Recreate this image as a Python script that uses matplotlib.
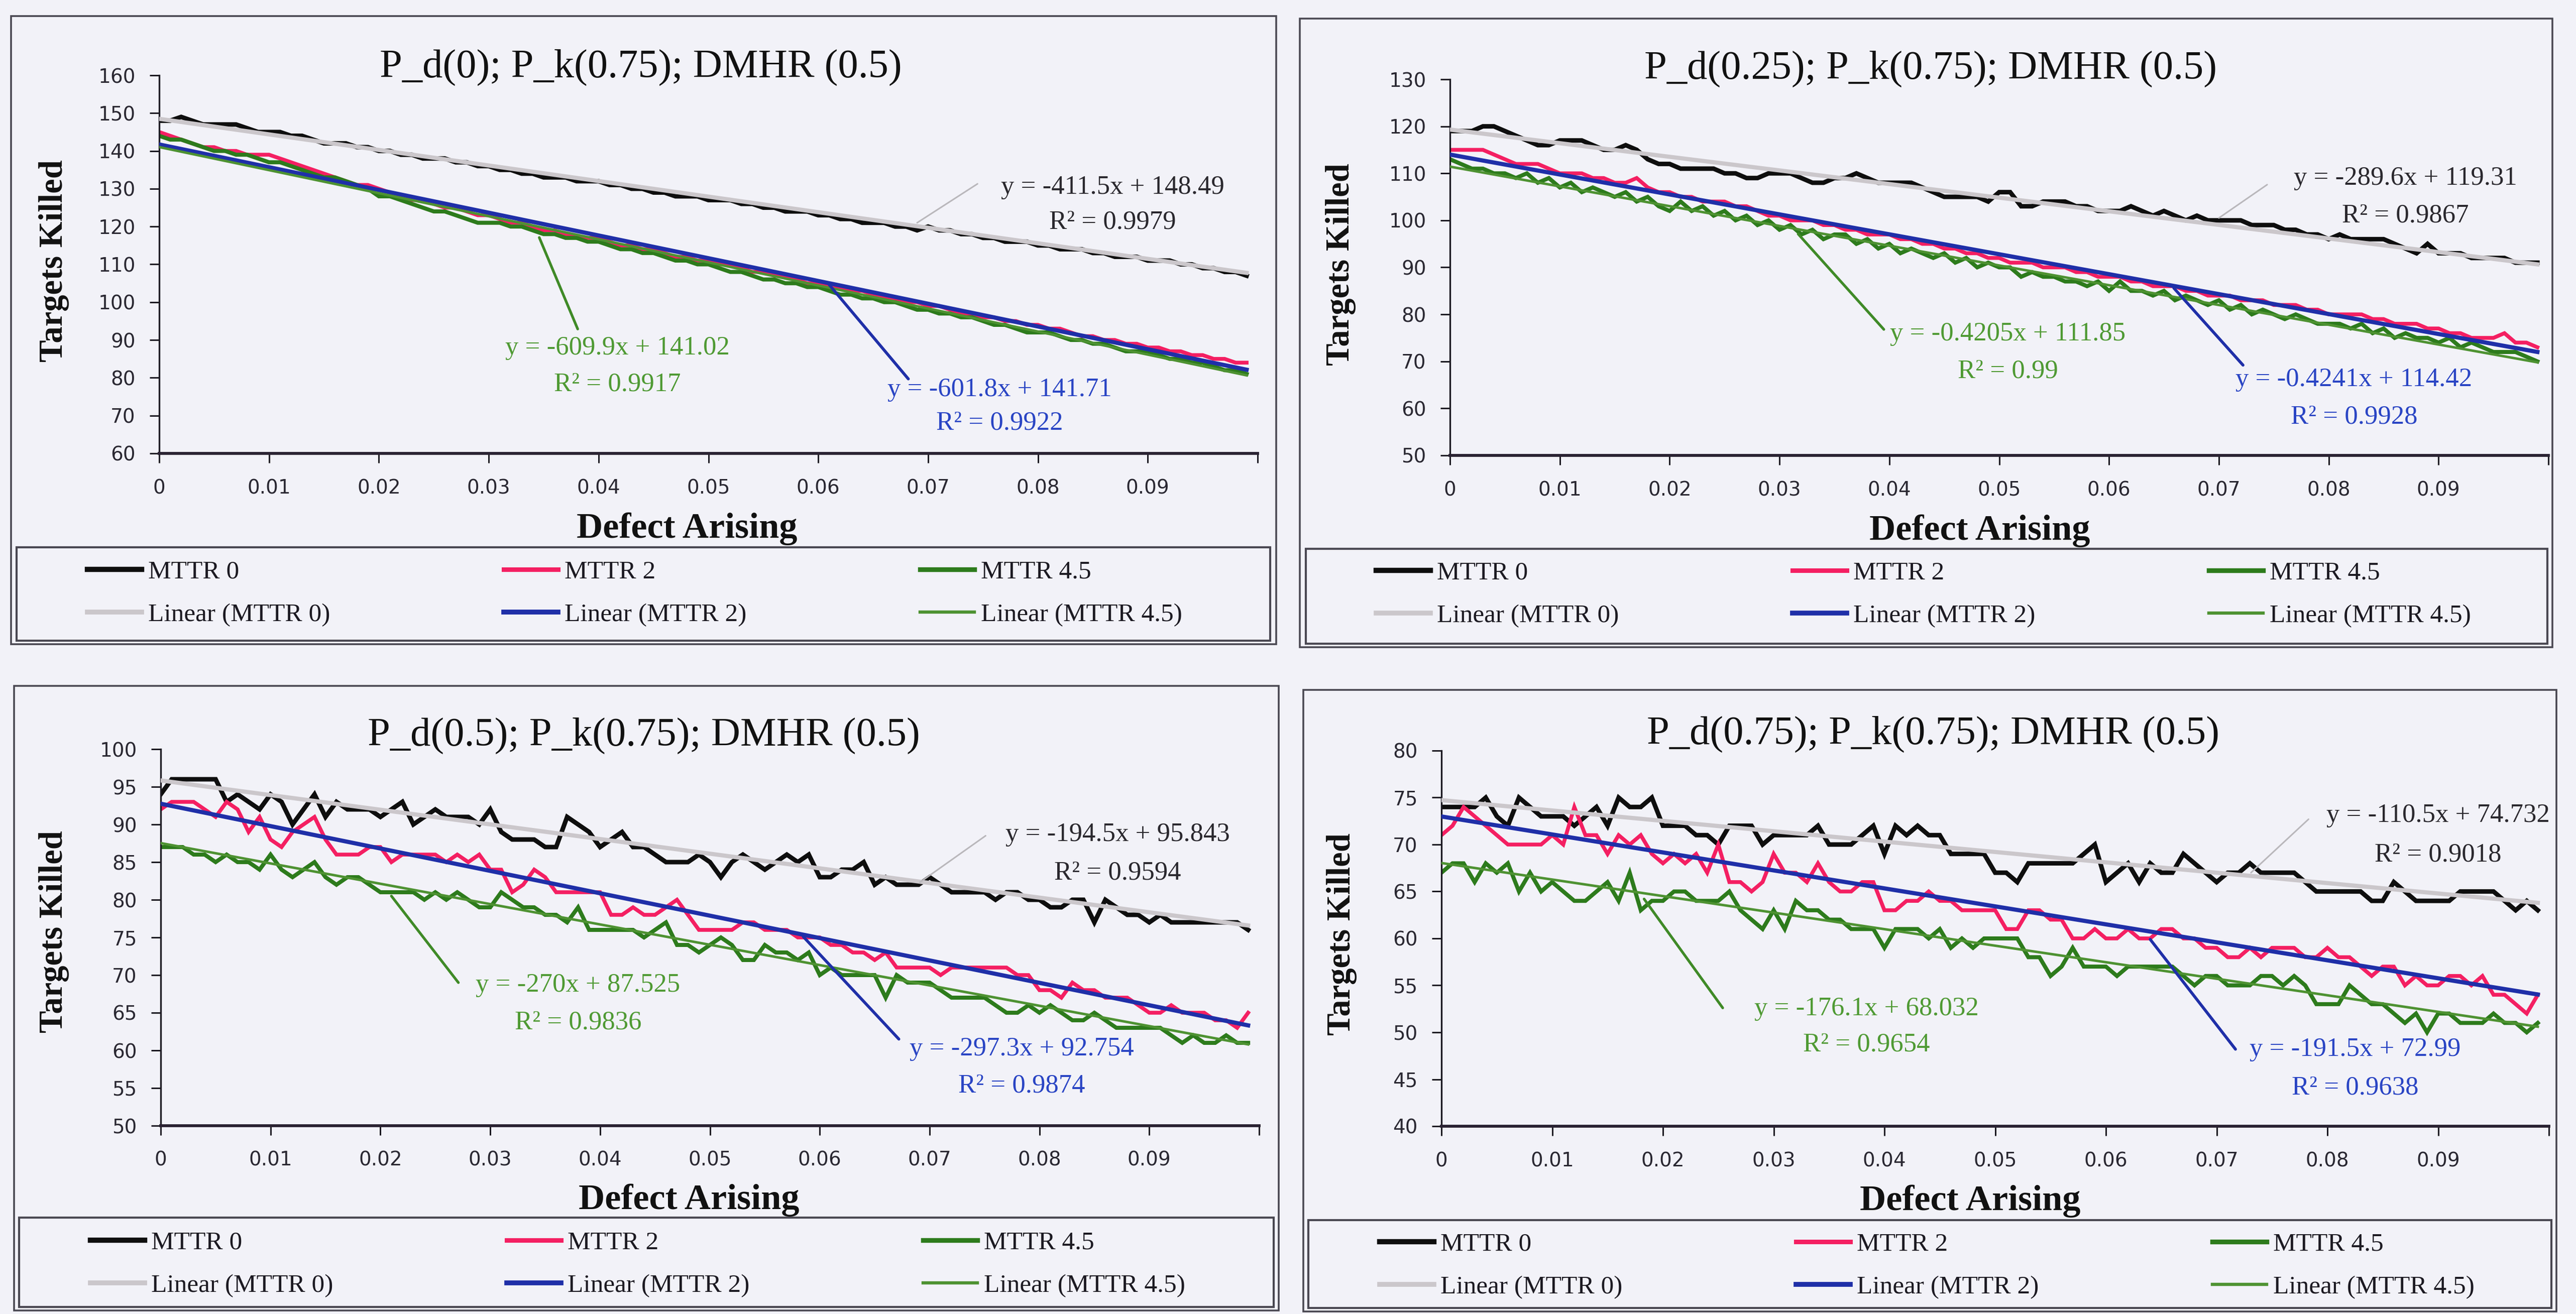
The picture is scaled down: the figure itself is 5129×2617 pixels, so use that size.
import numpy as np
import matplotlib
matplotlib.use("Agg")
import matplotlib.pyplot as plt
from matplotlib.lines import Line2D
from matplotlib.patches import Rectangle

# ---------------------------------------------------------------- data
# Defect-arising rate (category axis, 100 steps)
DEFECT_RATE = np.round(np.arange(100) * 0.001, 3)

SERIES_NAMES = ["MTTR 0", "MTTR 2", "MTTR 4.5"]

PANEL_TITLES = [
    "P_d(0); P_k(0.75); DMHR (0.5)",
    "P_d(0.25); P_k(0.75); DMHR (0.5)",
    "P_d(0.5); P_k(0.75); DMHR (0.5)",
    "P_d(0.75); P_k(0.75); DMHR (0.5)",
]

# P_d = 0
PD0_MTTR0 = [148, 148, 149, 148, 147, 147, 147, 147, 146, 145,
             145, 145, 144, 144, 143, 142, 142, 142, 141, 141,
             140, 140, 139, 139, 138, 138, 138, 137, 137, 136,
             136, 135, 135, 134, 134, 133, 133, 133, 132, 132,
             132, 131, 131, 130, 130, 129, 129, 128, 128, 128,
             127, 127, 127, 126, 126, 125, 125, 124, 124, 124,
             123, 123, 122, 122, 121, 121, 121, 120, 120, 119,
             120, 119, 119, 118, 118, 117, 117, 116, 116, 116,
             115, 115, 114, 114, 114, 113, 113, 112, 112, 112,
             111, 111, 111, 110, 110, 109, 109, 108, 108, 107]
PD0_MTTR2 = [145, 144, 143, 142, 141, 141, 140, 140, 139, 139,
             139, 138, 137, 136, 135, 134, 133, 132, 131, 131,
             130, 129, 128, 127, 127, 126, 125, 125, 124, 123,
             123, 122, 121, 121, 120, 119, 119, 118, 117, 117,
             117, 116, 115, 115, 114, 114, 113, 112, 112, 111,
             111, 110, 110, 109, 108, 108, 107, 107, 106, 105,
             105, 104, 104, 103, 103, 102, 101, 101, 100, 100,
             99, 99, 98, 97, 97, 96, 96, 95, 95, 94,
             94, 93, 93, 92, 91, 91, 90, 90, 89, 89,
             88, 88, 87, 87, 86, 86, 85, 85, 84, 84]
PD0_MTTR45 = [144, 143, 143, 142, 141, 140, 140, 139, 139, 138,
              137, 137, 136, 135, 134, 133, 133, 132, 131, 130,
              128, 128, 127, 126, 125, 124, 124, 123, 122, 121,
              121, 121, 120, 120, 119, 118, 118, 117, 117, 116,
              116, 115, 114, 114, 113, 113, 112, 111, 111, 110,
              110, 109, 108, 108, 107, 106, 106, 105, 105, 104,
              104, 103, 102, 102, 101, 101, 100, 100, 99, 98,
              98, 97, 97, 96, 96, 95, 94, 94, 93, 92,
              92, 92, 91, 90, 90, 89, 89, 88, 87, 87,
              87, 86, 85, 85, 84, 84, 83, 82, 82, 81]

# P_d = 0.25
PD025_MTTR0 = [119, 119, 119, 120, 120, 119, 118, 117, 116, 116,
               117, 117, 117, 116, 115, 115, 116, 115, 113, 112,
               112, 111, 111, 111, 111, 110, 110, 109, 109, 110,
               110, 110, 109, 108, 108, 109, 109, 110, 109, 108,
               108, 108, 108, 107, 106, 105, 105, 105, 105, 104,
               106, 106, 103, 103, 104, 104, 104, 103, 103, 102,
               102, 102, 103, 102, 101, 102, 101, 100, 101, 100,
               100, 100, 100, 99, 99, 99, 98, 98, 97, 97,
               96, 97, 96, 96, 96, 96, 95, 94, 93, 95,
               93, 93, 93, 92, 92, 92, 92, 91, 91, 91]
PD025_MTTR2 = [115, 115, 115, 115, 114, 113, 112, 112, 112, 111,
               110, 110, 110, 109, 109, 108, 108, 109, 107, 106,
               106, 105, 105, 104, 104, 104, 103, 103, 102, 101,
               101, 100, 100, 100, 99, 99, 98, 98, 97, 97,
               97, 96, 96, 95, 95, 94, 94, 93, 93, 92,
               92, 91, 91, 91, 90, 90, 90, 89, 89, 88,
               88, 88, 87, 87, 86, 86, 86, 85, 85, 84,
               84, 84, 83, 83, 83, 82, 82, 82, 81, 81,
               80, 80, 80, 80, 79, 79, 78, 78, 78, 77,
               77, 76, 76, 75, 75, 75, 76, 74, 74, 73]
PD025_MTTR45 = [113, 112, 111, 111, 110, 110, 109, 110, 108, 109,
                107, 108, 106, 107, 106, 105, 106, 104, 105, 103,
                102, 104, 102, 103, 101, 102, 100, 101, 99, 100,
                98, 99, 97, 98, 96, 97, 97, 95, 96, 94,
                95, 93, 94, 93, 92, 93, 91, 92, 90, 91,
                90, 90, 88, 89, 88, 88, 87, 87, 86, 87,
                85, 87, 85, 85, 84, 85, 83, 84, 83, 82,
                83, 81, 82, 80, 81, 80, 79, 80, 79, 78,
                78, 78, 77, 78, 76, 77, 75, 76, 75, 75,
                74, 75, 73, 74, 73, 72, 72, 72, 71, 70]

# P_d = 0.5
PD05_MTTR0 = [94, 96, 96, 96, 96, 96, 93, 94, 93, 92,
              94, 93, 90, 92, 94, 91, 93, 92, 92, 92,
              91, 92, 93, 90, 91, 92, 91, 91, 91, 90,
              92, 89, 88, 88, 88, 87, 87, 91, 90, 89,
              87, 88, 89, 87, 87, 86, 85, 85, 85, 86,
              85, 83, 85, 86, 85, 84, 85, 86, 85, 86,
              83, 83, 84, 84, 85, 82, 83, 82, 82, 82,
              83, 82, 81, 81, 81, 81, 80, 81, 81, 80,
              80, 79, 79, 80, 80, 77, 80, 79, 78, 78,
              77, 78, 77, 77, 77, 77, 77, 77, 77, 76]
PD05_MTTR2 = [92, 93, 93, 93, 92, 91, 93, 92, 89, 91,
              88, 87, 89, 90, 91, 88, 86, 86, 86, 87,
              87, 85, 86, 86, 86, 86, 85, 86, 85, 86,
              84, 84, 81, 82, 84, 83, 81, 81, 81, 81,
              81, 78, 78, 79, 78, 78, 79, 80, 78, 76,
              76, 76, 76, 77, 77, 76, 76, 76, 75, 75,
              75, 74, 74, 73, 73, 72, 73, 71, 71, 71,
              71, 70, 71, 71, 71, 71, 71, 71, 70, 70,
              68, 68, 67, 69, 68, 68, 67, 67, 67, 66,
              65, 65, 66, 65, 65, 65, 64, 64, 63, 65]
PD05_MTTR45 = [87, 87, 87, 86, 86, 85, 86, 85, 85, 84,
               86, 84, 83, 84, 85, 83, 82, 83, 83, 82,
               81, 81, 81, 81, 80, 81, 80, 81, 80, 79,
               79, 81, 80, 79, 79, 78, 78, 77, 79, 76,
               76, 76, 76, 76, 75, 76, 77, 74, 74, 73,
               74, 75, 74, 72, 72, 74, 73, 73, 72, 73,
               70, 71, 70, 70, 70, 70, 67, 70, 69, 69,
               69, 68, 67, 67, 67, 67, 66, 65, 65, 66,
               65, 66, 65, 64, 64, 65, 64, 63, 63, 63,
               63, 63, 62, 61, 62, 61, 61, 62, 61, 61]

# P_d = 0.75
PD075_MTTR0 = [74, 74, 74, 74, 75, 73, 72, 75, 74, 73,
               73, 73, 72, 73, 74, 72, 75, 74, 74, 75,
               72, 72, 72, 71, 71, 70, 72, 72, 72, 70,
               71, 71, 71, 71, 72, 70, 70, 70, 71, 72,
               69, 72, 71, 72, 71, 71, 69, 69, 69, 69,
               67, 67, 66, 68, 68, 68, 68, 68, 69, 70,
               66, 67, 68, 66, 68, 67, 67, 69, 68, 67,
               66, 67, 67, 68, 67, 67, 67, 67, 66, 65,
               65, 65, 65, 65, 64, 64, 66, 65, 64, 64,
               64, 64, 65, 65, 65, 65, 64, 63, 64, 63]
PD075_MTTR2 = [71, 72, 74, 73, 72, 71, 70, 70, 70, 70,
               71, 70, 74, 71, 71, 69, 71, 70, 71, 69,
               68, 69, 68, 69, 67, 70, 66, 66, 65, 66,
               69, 67, 67, 66, 68, 66, 65, 65, 66, 66,
               63, 63, 64, 64, 65, 64, 64, 63, 63, 63,
               63, 61, 61, 63, 63, 62, 62, 60, 60, 61,
               60, 60, 61, 60, 60, 61, 61, 60, 60, 59,
               59, 58, 58, 59, 58, 59, 59, 59, 58, 58,
               59, 58, 58, 57, 56, 57, 57, 55, 56, 55,
               55, 56, 56, 55, 56, 54, 54, 53, 52, 54]
PD075_MTTR45 = [67, 68, 68, 66, 68, 67, 68, 65, 67, 65,
                66, 65, 64, 64, 65, 66, 64, 67, 63, 64,
                64, 65, 65, 64, 64, 64, 65, 63, 62, 61,
                63, 61, 64, 63, 63, 62, 62, 61, 61, 61,
                59, 61, 61, 61, 60, 61, 59, 60, 59, 60,
                60, 60, 60, 58, 58, 56, 57, 59, 57, 57,
                57, 56, 57, 57, 57, 57, 57, 56, 55, 56,
                56, 55, 55, 55, 56, 56, 55, 56, 55, 53,
                53, 53, 55, 54, 53, 53, 52, 51, 52, 50,
                52, 52, 51, 51, 51, 52, 51, 51, 50, 51]

# Linear trend fits (slope, intercept, R^2); basis "n" = point number 1..100
PD0_SLOPES, PD0_INTERCEPTS, PD0_R2 = [-411.5, -601.8, -609.9], [148.49, 141.71, 141.02], [0.9979, 0.9922, 0.9917]
PD025_SLOPES, PD025_INTERCEPTS, PD025_R2 = [-289.6, -0.4241, -0.4205], [119.31, 114.42, 111.85], [0.9867, 0.9928, 0.99]
PD05_SLOPES, PD05_INTERCEPTS, PD05_R2 = [-194.5, -297.3, -270], [95.843, 92.754, 87.525], [0.9594, 0.9874, 0.9836]
PD075_SLOPES, PD075_INTERCEPTS, PD075_R2 = [-110.5, -191.5, -176.1], [74.732, 72.99, 68.032], [0.9018, 0.9638, 0.9654]
PD0_BASIS = ["x", "x", "x"]
PD025_BASIS = ["x", "n", "n"]
PD05_BASIS = ["x", "x", "x"]
PD075_BASIS = ["x", "x", "x"]

Y_LIMITS = [(60, 160), (50, 130), (50, 100), (40, 80)]
Y_STEPS = [10, 10, 5, 5]
X_TICKS = [0, 0.01, 0.02, 0.03, 0.04, 0.05, 0.06, 0.07, 0.08, 0.09, 0.1]
X_TICK_LABELS = ["0", "0.01", "0.02", "0.03", "0.04", "0.05", "0.06", "0.07", "0.08", "0.09", ""]

PANELS = [
    dict(title=PANEL_TITLES[0], series=[PD0_MTTR0, PD0_MTTR2, PD0_MTTR45],
         slopes=PD0_SLOPES, intercepts=PD0_INTERCEPTS, r2=PD0_R2, basis=PD0_BASIS),
    dict(title=PANEL_TITLES[1], series=[PD025_MTTR0, PD025_MTTR2, PD025_MTTR45],
         slopes=PD025_SLOPES, intercepts=PD025_INTERCEPTS, r2=PD025_R2, basis=PD025_BASIS),
    dict(title=PANEL_TITLES[2], series=[PD05_MTTR0, PD05_MTTR2, PD05_MTTR45],
         slopes=PD05_SLOPES, intercepts=PD05_INTERCEPTS, r2=PD05_R2, basis=PD05_BASIS),
    dict(title=PANEL_TITLES[3], series=[PD075_MTTR0, PD075_MTTR2, PD075_MTTR45],
         slopes=PD075_SLOPES, intercepts=PD075_INTERCEPTS, r2=PD075_R2, basis=PD075_BASIS),
]

# ---------------------------------------------------------------- layout (pixels)
W, H, DPI = 5129, 2617, 100
AXES_BOX = [(317, 150, 2504, 903), (2887, 158, 5074, 907),
            (320, 1492, 2507, 2242), (2870, 1495, 5075, 2243)]
FRAME_BOX = [(22, 32, 2541, 1283), (2588, 37, 5082, 1289),
             (28, 1366, 2546, 2610), (2595, 1374, 5090, 2612)]
LEGEND_BOX = [(33, 1090, 2529, 1276), (2600, 1093, 5072, 1282),
              (38, 2425, 2536, 2603), (2605, 2430, 5080, 2605)]
LEGEND_ROWS_MID = [1182, 1184, 2518, 2521]
LEGEND_COL_OFFSETS = [152, 981, 1810]
TITLE_POS = [(1276, 134), (3844, 137), (1282, 1465), (3849, 1462)]
XLABEL_POS = [(1368, 1053), (3942, 1057), (1372, 2390), (3923, 2392)]
YLABEL_POS = [(108, 520), (2670, 527), (108, 1856), (2672, 1861)]

# equation label: (x centre, line-1 y, line-2 y, leader start, leader end) in data units
EQ_LAYOUT = [
    [(0.0868, 130.4, 121.2, (0.0745, 131.3), (0.0690, 121.0)),
     (0.0765, 76.9, 68.0, (0.0682, 79.7), (0.0610, 104.6)),
     (0.0417, 87.9, 78.2, (0.0381, 92.9), (0.0346, 117.1))],
    [(0.0870, 109.0, 101.0, (0.0744, 107.6), (0.0700, 100.5)),
     (0.0823, 66.1, 58.2, (0.0722, 69.2), (0.0659, 85.6)),
     (0.0508, 75.9, 67.9, (0.0395, 76.8), (0.0317, 97.1))],
    [(0.0871, 88.7, 83.6, (0.0751, 88.5), (0.0691, 82.3)),
     (0.0784, 60.2, 55.3, (0.0672, 61.5), (0.0585, 75.1)),
     (0.0380, 68.7, 63.7, (0.0271, 69.0), (0.0210, 80.5))],
    [(0.0900, 73.1, 68.9, (0.0783, 72.7), (0.0731, 67.0)),
     (0.0825, 48.2, 44.1, (0.0717, 48.2), (0.0640, 59.9)),
     (0.0384, 52.5, 48.7, (0.0254, 52.6), (0.0183, 64.2))],
]

# ---------------------------------------------------------------- styles
BG = "#f2f2f8"
INK = "#1c1a22"
FRAME_COLOR = "#4a4852"
DATA_COLORS = ["#0e0e0e", "#f41f62", "#2d7b1c"]
DATA_LW = [6.5, 5.5, 5.8]
TREND_COLORS = ["#cbc7cb", "#1f2fa8", "#4e9232"]
TREND_LW = [6.0, 6.0, 3.6]
EQ_COLORS = ["#2a282e", "#2a45c4", "#4f9a34"]
LEADER_COLORS = ["#b9b7bb", "#1f2fa8", "#3f8a27"]
LEADER_LW = [2.2, 4.2, 3.8]

SERIF = ["Liberation Serif", "DejaVu Serif"]
SANS = ["DejaVu Sans"]

plt.rcParams["font.family"] = SERIF


def fx(px):
    return px / W


def fy(py):
    return 1 - py / H


fig = plt.figure(figsize=(W / DPI, H / DPI), dpi=DPI, facecolor=BG)

for p, panel in enumerate(PANELS):
    # outer chart frame
    fl, ft, fr, fb = FRAME_BOX[p]
    fig.add_artist(Rectangle((fx(fl), fy(fb)), (fr - fl) / W, (fb - ft) / H,
                             transform=fig.transFigure, fill=False,
                             ec=FRAME_COLOR, lw=2.6, zorder=0))

    l, t, r, b = AXES_BOX[p]
    ax = fig.add_axes([fx(l), fy(b), (r - l) / W, (b - t) / H])
    ax.set_facecolor("none")

    # data series
    for k, values in enumerate(panel["series"]):
        ax.plot(DEFECT_RATE, values, color=DATA_COLORS[k], lw=DATA_LW[k],
                solid_joinstyle="miter", zorder=2 + k * 0.1)

    # linear trend lines (drawn above the series)
    point_no = np.arange(1, len(DEFECT_RATE) + 1)
    for k in range(3):
        basis = DEFECT_RATE if panel["basis"][k] == "x" else point_no
        fit = panel["intercepts"][k] + panel["slopes"][k] * basis
        ax.plot(DEFECT_RATE, fit, color=TREND_COLORS[k], lw=TREND_LW[k], zorder=3 + k * 0.1)

    # trend equations with leader lines
    for k in range(3):
        xc, y1, y2, start, end = EQ_LAYOUT[p][k]
        eq = f"y = {panel['slopes'][k]:g}x + {panel['intercepts'][k]:g}"
        r2 = f"R\u00b2 = {panel['r2'][k]:g}"
        ax.text(xc, y1, eq, color=EQ_COLORS[k], fontsize=38, ha="center", va="center", zorder=5)
        ax.text(xc, y2, r2, color=EQ_COLORS[k], fontsize=38, ha="center", va="center", zorder=5)
        ax.annotate("", xy=end, xytext=start,
                    arrowprops=dict(arrowstyle="-", color=LEADER_COLORS[k], lw=LEADER_LW[k],
                                    shrinkA=0, shrinkB=0), zorder=4)

    # axes
    lo, hi = Y_LIMITS[p]
    ax.set_xlim(0, 0.1)
    ax.set_ylim(lo, hi)
    ax.set_yticks(np.arange(lo, hi + 0.1, Y_STEPS[p]))
    ax.set_xticks(X_TICKS)
    ax.set_xticklabels(X_TICK_LABELS)
    for side in ("top", "right"):
        ax.spines[side].set_visible(False)
    ax.spines["left"].set_color(INK)
    ax.spines["left"].set_linewidth(2.4)
    ax.spines["bottom"].set_color("#2a2232")
    ax.spines["bottom"].set_linewidth(4.2)
    ax.tick_params(axis="both", direction="out", length=14, width=2.2, color=INK,
                   labelsize=28, labelcolor="#2a2832")
    ax.tick_params(axis="x", pad=22)
    ax.tick_params(axis="y", pad=20)
    for lab in ax.get_xticklabels() + ax.get_yticklabels():
        lab.set_family(SANS)

    # titles
    tx, ty = TITLE_POS[p]
    fig.text(fx(tx), fy(ty), panel["title"], fontsize=58, ha="center", va="center", color="#111111")
    xx, xy = XLABEL_POS[p]
    fig.text(fx(xx), fy(xy), "Defect Arising", fontsize=52, fontweight="bold",
             ha="center", va="center", color="#111111")
    yx, yy = YLABEL_POS[p]
    fig.text(fx(yx), fy(yy), "Targets Killed", fontsize=48, fontweight="bold", rotation=90,
             ha="center", va="center", color="#111111")

    # legend box and three legend columns
    ll, lt, lr, lb = LEGEND_BOX[p]
    fig.add_artist(Rectangle((fx(ll), fy(lb)), (lr - ll) / W, (lb - lt) / H,
                             transform=fig.transFigure, fill=False,
                             ec=FRAME_COLOR, lw=3.0, zorder=0))
    for k in range(3):
        h_data = Line2D([], [], color=DATA_COLORS[k], lw=DATA_LW[k] + 1)
        h_fit = Line2D([], [], color=TREND_COLORS[k], lw=TREND_LW[k] + 1)
        leg = fig.legend([h_data, h_fit], [SERIES_NAMES[k], f"Linear ({SERIES_NAMES[k]})"],
                         loc="center left",
                         bbox_to_anchor=(fx(fl + LEGEND_COL_OFFSETS[k]), fy(LEGEND_ROWS_MID[p])),
                         frameon=False, borderpad=0, borderaxespad=0,
                         handlelength=2.1, handletextpad=0.25, labelspacing=0.75,
                         prop=dict(family=SERIF, size=37))
        for txt in leg.get_texts():
            txt.set_color("#1c1a22")

fig.savefig("out.png", dpi=DPI, facecolor=BG)
